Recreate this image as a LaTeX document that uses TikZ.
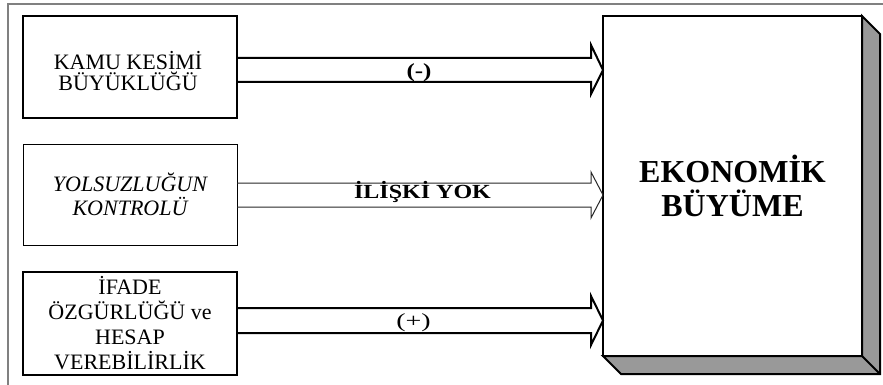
\documentclass[tikz,border=0pt]{standalone}
\usepackage{fontspec}
\usepackage{graphicx}
\setmainfont{Liberation Serif}
\usetikzlibrary{calc}
\definecolor{framegray}{RGB}{128,128,128}
\definecolor{shadowgray}{RGB}{153,153,153}
\begin{document}
\begin{tikzpicture}[x=1pt,y=-1pt,
  srcbox/.style={draw, minimum width=214pt, inner sep=0pt, outer sep=0pt, align=center},
  thickbox/.style={srcbox, line width=2pt},
  thinbox/.style={srcbox, line width=1pt},
  boxtext/.style={inner sep=0pt, align=center},
  bigbox/.style={draw, fill=white, line width=2.5pt, minimum width=259pt, minimum height=340pt,
    inner sep=0pt, outer sep=0pt, align=center, font=\bfseries\fontsize{32}{34}\selectfont},
  shadow/.style={fill=shadowgray, draw=black, line width=2pt, line join=miter},
  fatarrow/.style={draw=black, line width=2pt, line join=miter},
  thinarrow/.style={draw=black!85, line width=1pt, line join=miter},
  lab/.style={inner sep=0pt, anchor=base}]
\useasboundingbox (0,0) rectangle (883,385);
% outer frame
\draw[framegray, line width=1.5pt] (8,385) -- (8,4) -- (883,4);

% source boxes
\node[thickbox, minimum height=102pt] (kamu) at (130,67) {};
\node[boxtext, font=\fontsize{22}{21}\selectfont] (kamutext) at (128,71) {KAMU KESİMİ\\BÜYÜKLÜĞÜ};
\node[thinbox, minimum height=101pt, font=\itshape\fontsize{22}{24}\selectfont] (yols) at (130,194.5) {YOLSUZLUĞUN\\KONTROLÜ};
\node[thickbox, minimum height=103pt, font=\fontsize{22}{25}\selectfont] (ifade) at (130,323.5) {İFADE\\ÖZGÜRLÜĞÜ ve\\HESAP\\VEREBİLİRLİK};

% target box with shadow
\node[bigbox] (eko) at (732.5,186) {EKONOMİK\\BÜYÜME};
\path[shadow] (eko.north east) -- ++(18,18) -- ($(eko.south east)+(18,18)$) -- ($(eko.south west)+(18,18)$)
  -- (eko.south west) -- (eko.south east) -- cycle;
\draw[line width=2pt] (eko.south east) -- ++(18,18);

% block arrows
\path[fatarrow] (kamu.east |- 0,58) -- ($(eko.west |- 0,58)+(-12,0)$) -- ($(eko.west |- 0,45)+(-12,0)$)
  -- (eko.west |- 0,70) -- ($(eko.west |- 0,94)+(-12,0)$) -- ($(eko.west |- 0,82)+(-12,0)$) -- (kamu.east |- 0,82);
\path[thinarrow] (yols.east |- 0,183) -- ($(eko.west |- 0,183)+(-12,0)$) -- ($(eko.west |- 0,172)+(-12,0)$)
  -- (eko.west |- 0,195) -- ($(eko.west |- 0,218)+(-12,0)$) -- ($(eko.west |- 0,207)+(-12,0)$) -- (yols.east |- 0,207);
\path[fatarrow] (ifade.east |- 0,308) -- ($(eko.west |- 0,308)+(-12,0)$) -- ($(eko.west |- 0,296)+(-12,0)$)
  -- (eko.west |- 0,320.5) -- ($(eko.west |- 0,345)+(-12,0)$) -- ($(eko.west |- 0,333)+(-12,0)$) -- (ifade.east |- 0,333);

% arrow labels
\node[lab, font=\bfseries\fontsize{20}{22}\selectfont] (neg) at (419,77.5) {\scalebox{1.25}[1]{(-)}};
\node[lab, font=\bfseries\fontsize{20}{22}\selectfont] (none) at (422.5,198.5) {\scalebox{1.2}[1]{İLİŞKİ YOK}};
\node[lab, font=\fontsize{20}{22}\selectfont] (pos) at (413.5,327) {\scalebox{1.4}[1]{(+)}};
\end{tikzpicture}
\end{document}
